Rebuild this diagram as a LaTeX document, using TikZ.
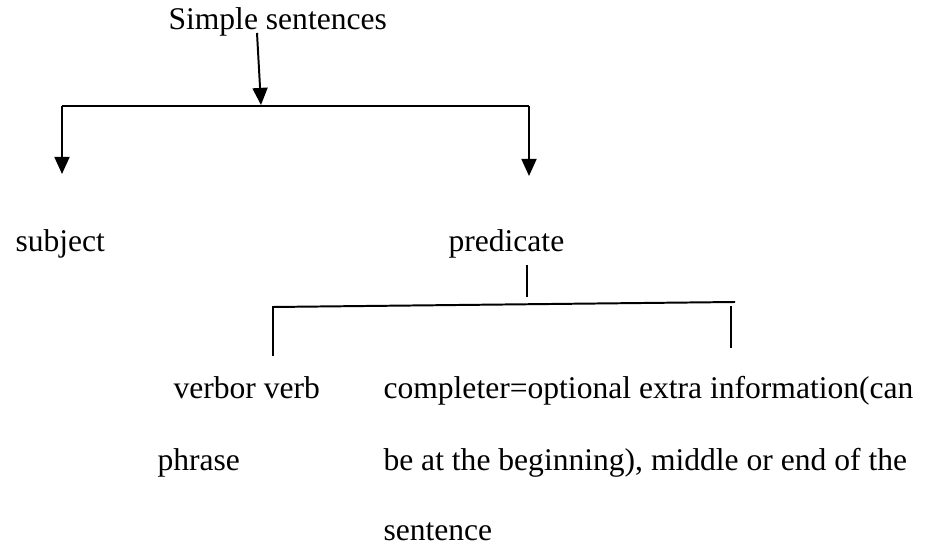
\documentclass[tikz,border=0pt]{standalone}
\usepackage{fontspec}
\setmainfont{Liberation Serif}
\usetikzlibrary{arrows.meta, positioning}

\begin{document}
\begin{tikzpicture}[x=0.38pt, y=-0.38pt]
    \tikzstyle{word} = [anchor=base west, inner sep=0pt, font=\fontsize{12}{14}\selectfont]
    \tikzstyle{link} = [line width=0.75pt]
    \tikzstyle{down_arrow} = [link, -{Triangle[length=6.5pt, width=5.7pt]}]

    \useasboundingbox (0,0) rectangle (931,549);

    % Top level
    \node[word] (simple) at (168,30) {Simple sentences};
    \coordinate (simple_out) at (257,33);
    \coordinate (split) at (261,105);
    \coordinate (split_left) at (62,106);
    \coordinate (split_right) at (529,106);
    \coordinate (subject_in) at (62,174);
    \coordinate (predicate_in) at (529,176);

    \draw[down_arrow] (simple_out) -- (split);
    \draw[link] (split_left) -- (split_right);
    \draw[down_arrow] (split_left) -- (subject_in);
    \draw[down_arrow] (split_right) -- (predicate_in);

    % Second level
    \node[word] (subject) at (15,252) {subject};
    \node[word] (predicate) at (448,252) {predicate};

    % Predicate bracket
    \coordinate (pred_out) at (527,265);
    \coordinate (pred_in) at (527,297);
    \coordinate (bar_left) at (273,307);
    \coordinate (bar_right) at (735,302);
    \coordinate (verb_in) at (273,356);
    \coordinate (compl_top) at (731,306);
    \coordinate (compl_in) at (731,348);

    \draw[link] (pred_out) -- (pred_in);
    \draw[link] (verb_in) -- (bar_left) -- (bar_right);
    \draw[link] (compl_top) -- (compl_in);

    % Third level
    \node[word] (verb) at (173,398) {verbor verb};
    \node[word] (verb_2) at (157,470) {phrase};
    \node[word] (completer) at (383,398) {completer=optional extra information(can};
    \node[word] (completer_2) at (383,470) {be at the beginning), middle or end of the};
    \node[word] (completer_3) at (383,540) {sentence};
\end{tikzpicture}
\end{document}
